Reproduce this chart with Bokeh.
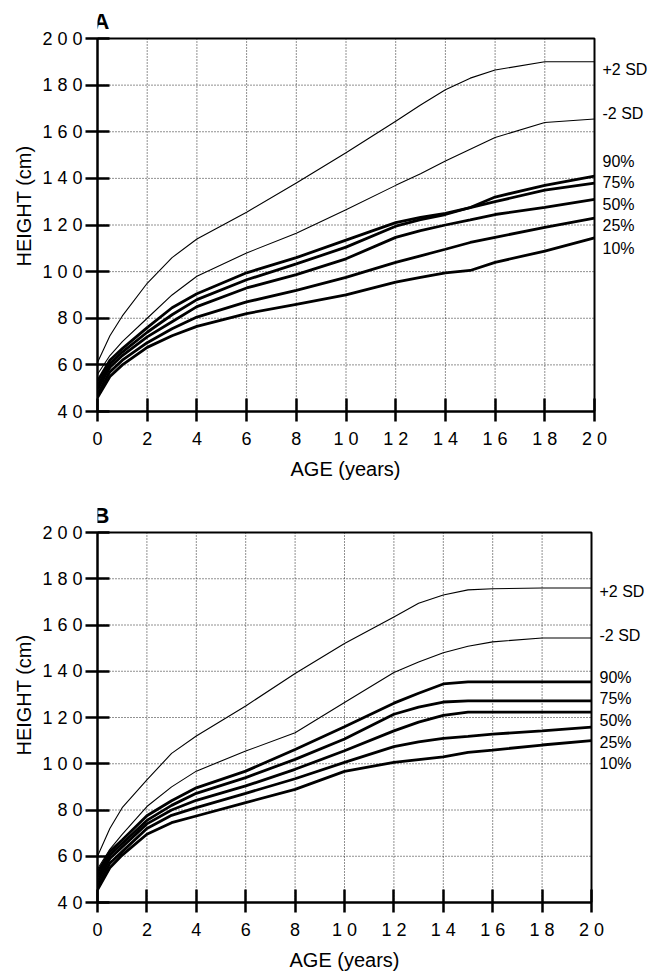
from bokeh.plotting import figure
from bokeh.models import Range1d, Label, FixedTicker, Title
from bokeh.layouts import column
from bokeh.embed import file_html
from bokeh.resources import INLINE

# ---------------- data ----------------
ages = [0, 0.5, 1, 2, 3, 4, 6, 8, 10, 12, 13, 14, 15, 16, 18, 20]

a_plus2sd = [61, 72.5, 81, 95, 106, 114, 125.5, 138, 151, 164.5, 171.5, 178, 183, 186.5, 190, 190]
a_minus2sd = [56, 64, 70, 80, 90, 98, 108, 116.5, 126.5, 137, 142, 147.5, 152.5, 157.5, 164, 165.5]
a_p90 = [53, 62, 67, 76, 84.5, 90.5, 99.5, 106, 113.5, 121, 123.3, 125, 127.5, 132, 137, 141]
a_p75 = [51, 60.5, 65.5, 74, 81.5, 88, 96.5, 103.3, 110.5, 119.5, 122.3, 124.5, 127.5, 130, 135, 138]
a_p50 = [49.5, 59, 64, 72, 78.5, 85, 93, 98.7, 105.5, 114.7, 117.6, 120, 122.2, 124.5, 127.6, 131]
a_p25 = [47.5, 57, 62, 69.5, 75.5, 80.5, 87, 92, 97.5, 104, 106.8, 109.6, 112.5, 114.7, 119, 123]
a_p10 = [46, 55, 60, 67.5, 72.5, 76.5, 82, 86, 90, 95.5, 97.5, 99.5, 100.5, 104, 108.8, 114.5]

b_plus2sd = [60, 72, 81, 93, 104.5, 112, 125, 139, 152, 163.5, 169.4, 173, 175.2, 175.7, 176, 176]
b_minus2sd = [54.5, 63, 69.5, 81.5, 90, 96.8, 105.5, 113.4, 126.5, 139.5, 144, 148, 150.8, 152.7, 154.4, 154.4]
b_p90 = [53, 62, 67, 77.5, 84, 89.6, 96.8, 106.2, 116, 126.2, 130.5, 134.5, 135.4, 135.4, 135.4, 135.4]
b_p75 = [51, 60.5, 65.5, 75.5, 82, 87.2, 94, 101.9, 110.7, 121.4, 124.5, 126.7, 127.2, 127.2, 127.2, 127.2]
b_p50 = [49, 59, 64, 74, 80, 84.2, 90.4, 97.6, 105.6, 114.2, 118, 120.9, 122.3, 122.3, 122.3, 122.3]
b_p25 = [47, 57, 62, 72, 77.7, 81, 87.2, 93.5, 100.6, 107.4, 109.5, 111, 111.8, 112.8, 114.2, 115.8]
b_p10 = [45.5, 55, 60.5, 69.5, 74.5, 77.4, 83.2, 88.9, 96.7, 100.6, 101.8, 103, 104.9, 105.9, 108.1, 110]

curve_names = ["+2 SD", "-2 SD", "90%", "75%", "50%", "25%", "10%"]
x_ticks = [0, 2, 4, 6, 8, 10, 12, 14, 16, 18, 20]
y_ticks = [40, 60, 80, 100, 120, 140, 160, 180, 200]
X0, X1 = 0, 20
Y0, Y1 = 40, 200

# label anchor heights (layout, in data units)
a_label_y = [186.7, 167.7, 147.3, 138.1, 129.0, 119.8, 110.1]
b_label_y = [174.3, 155.5, 137.3, 128.2, 118.5, 109.4, 100.1]

FONT = "Liberation Sans"


def make_panel(letter, series, label_y, left, pw, extra_r, extra_t, ph, bottom,
               xlab_offset):
    x_end = X1 + extra_r * (X1 - X0) / pw
    y_end = Y1 + extra_t * (Y1 - Y0) / ph
    p = figure(frame_width=pw + extra_r, frame_height=ph + extra_t,
               min_border_left=left, min_border_right=0,
               min_border_top=0, min_border_bottom=bottom,
               x_range=Range1d(X0, x_end), y_range=Range1d(Y0, y_end),
               output_backend="svg", toolbar_location=None,
               background_fill_color="white", border_fill_color="white")
    p.outline_line_color = None
    p.xgrid.visible = False
    p.ygrid.visible = False

    # dotted grid restricted to the plotting box
    p.segment(x0=x_ticks, y0=[Y0] * len(x_ticks), x1=x_ticks, y1=[Y1] * len(x_ticks),
              line_color="#222222", line_dash="1 2", line_width=1)
    p.segment(x0=[X0] * len(y_ticks), y0=y_ticks, x1=[X1] * len(y_ticks), y1=y_ticks,
              line_color="#222222", line_dash="1 2", line_width=1)
    # top and right border of the box
    p.line([X0, X1, X1], [Y1, Y1, Y0], line_color="black", line_width=2)

    for i, ys in enumerate(series):
        lw = 1.1 if i < 2 else 2.8
        p.line(ages, ys, line_color="black", line_width=lw)

    for ax in (p.xaxis[0], p.yaxis[0]):
        ax.axis_line_width = 2.5
        ax.axis_line_color = "black"
        ax.major_tick_line_width = 2.5
        ax.major_tick_line_color = "black"
        ax.minor_tick_line_color = None
        ax.major_label_text_font = FONT
        ax.major_label_text_font_size = "18px"
        ax.major_label_text_color = "black"
        ax.axis_label_text_font = FONT
        ax.axis_label_text_font_size = "20px"
        ax.axis_label_text_font_style = "normal"
        ax.axis_label_text_color = "black"

    p.xaxis.bounds = (X0, X1)
    p.yaxis.bounds = (Y0, Y1)
    p.xaxis.ticker = FixedTicker(ticks=x_ticks)
    p.yaxis.ticker = FixedTicker(ticks=y_ticks)
    p.xaxis.major_label_overrides = {t: " ".join(str(t)) for t in x_ticks}
    p.yaxis.major_label_overrides = {t: " ".join(str(t)) for t in y_ticks}
    p.xaxis.major_tick_in = 13
    p.xaxis.major_tick_out = 10
    p.yaxis.major_tick_in = 12
    p.yaxis.major_tick_out = 12
    p.xaxis.major_label_standoff = 7
    p.yaxis.major_label_standoff = 3
    p.yaxis.axis_label = "HEIGHT (cm)"
    p.yaxis.axis_label_standoff = 4

    xt = Title(text="AGE (years)", align="left", offset=xlab_offset,
               text_font=FONT, text_font_size="20px", text_font_style="normal",
               text_color="black", standoff=9)
    p.add_layout(xt, "below")

    for name, ly in zip(curve_names, label_y):
        p.add_layout(Label(x=X1, y=ly, x_offset=8, text=name,
                           text_font=FONT, text_font_size="16px",
                           text_color="black", text_baseline="middle",
                           text_align="left"))

    p.add_layout(Label(x=X0, y=Y1, x_offset=-4, y_offset=17, text=letter,
                       text_font=FONT, text_font_size="22px",
                       text_font_style="bold", text_color="black",
                       text_baseline="alphabetic", text_align="left"))
    return p


pA = make_panel("A", [a_plus2sd, a_minus2sd, a_p90, a_p75, a_p50, a_p25, a_p10],
                a_label_y, 96, 497, 58, 38, 373, 76, 193)
pB = make_panel("B", [b_plus2sd, b_minus2sd, b_p90, b_p75, b_p50, b_p25, b_p10],
                b_label_y, 97, 494, 60, 45, 370, 72, 192)

layout = column(pA, pB, spacing=0)
open("out.html", "w").write(file_html(layout, INLINE))
